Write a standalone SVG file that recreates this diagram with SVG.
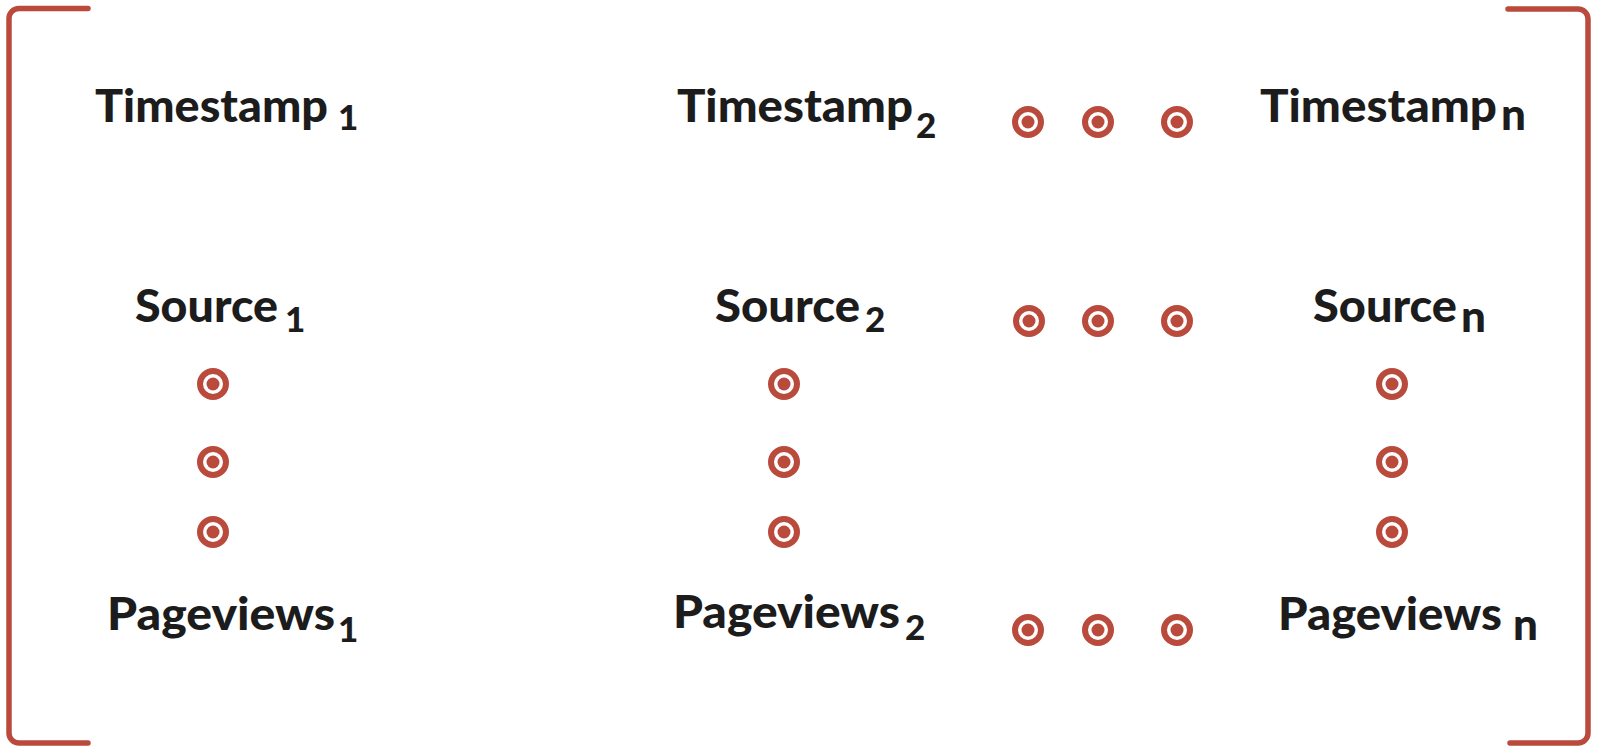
<svg xmlns="http://www.w3.org/2000/svg" width="1597" height="755" viewBox="0 0 1597 755">
<style>
.br{fill:none;stroke:#BA4A3B;stroke-width:5.5;stroke-linecap:round;stroke-linejoin:round}
.lbl{font-family:Lato,"Liberation Sans",sans-serif;font-weight:900;fill:#1c1c1c;font-size:46px}
.sd{font-size:35px}
.sn{font-size:44px}
</style>
<defs>
<g id="dot"><circle r="13" fill="#fff" stroke="#BA4A3B" stroke-width="6"/><circle r="6.5" fill="#BA4A3B"/></g>
</defs>
<rect width="1597" height="755" fill="#fff"/>
<g id="brackets">
<path class="br" d="M88 8.5 H19 A10 10 0 0 0 9 18.5 V733 A10 10 0 0 0 19 743 H88"/>
<path class="br" d="M1508 9 H1578 A10 10 0 0 1 1588 19 V733 A10 10 0 0 1 1578 743 H1510"/>
</g>
<g id="ts1"><text class="lbl"><tspan x="95" y="122" textLength="233" lengthAdjust="spacingAndGlyphs">Timestamp</tspan><tspan class="sd" x="338" y="130">1</tspan></text></g>
<g id="ts2"><text class="lbl"><tspan x="677" y="122" textLength="236" lengthAdjust="spacingAndGlyphs">Timestamp</tspan><tspan class="sd" x="916" y="138">2</tspan></text></g>
<g id="tsn"><text class="lbl"><tspan x="1260" y="122" textLength="237" lengthAdjust="spacingAndGlyphs">Timestamp</tspan><tspan class="sn" x="1501" y="130">n</tspan></text></g>
<g id="src1"><text class="lbl"><tspan x="135" y="322" textLength="143" lengthAdjust="spacingAndGlyphs">Source</tspan><tspan class="sd" x="285" y="332">1</tspan></text></g>
<g id="src2"><text class="lbl"><tspan x="715" y="322" textLength="145" lengthAdjust="spacingAndGlyphs">Source</tspan><tspan class="sd" x="865" y="332">2</tspan></text></g>
<g id="srcn"><text class="lbl"><tspan x="1313" y="322" textLength="144" lengthAdjust="spacingAndGlyphs">Source</tspan><tspan class="sn" x="1461" y="332">n</tspan></text></g>
<g id="pv1"><text class="lbl"><tspan x="107" y="630" textLength="228" lengthAdjust="spacingAndGlyphs">Pageviews</tspan><tspan class="sd" x="338" y="642">1</tspan></text></g>
<g id="pv2"><text class="lbl"><tspan x="673" y="628" textLength="227" lengthAdjust="spacingAndGlyphs">Pageviews</tspan><tspan class="sd" x="905" y="640">2</tspan></text></g>
<g id="pvn"><text class="lbl"><tspan x="1278" y="630" textLength="224" lengthAdjust="spacingAndGlyphs">Pageviews</tspan><tspan class="sn" x="1513" y="640">n</tspan></text></g>
<g id="ellipses">
<use href="#dot" x="1028" y="122"/><use href="#dot" x="1098" y="122"/><use href="#dot" x="1177" y="122"/>
<use href="#dot" x="1029" y="321"/><use href="#dot" x="1098" y="321"/><use href="#dot" x="1177" y="321"/>
<use href="#dot" x="1028" y="630"/><use href="#dot" x="1098" y="630"/><use href="#dot" x="1177" y="630"/>
<use href="#dot" x="213" y="384"/><use href="#dot" x="213" y="462"/><use href="#dot" x="213" y="532"/>
<use href="#dot" x="784" y="384"/><use href="#dot" x="784" y="462"/><use href="#dot" x="784" y="532"/>
<use href="#dot" x="1392" y="384"/><use href="#dot" x="1392" y="462"/><use href="#dot" x="1392" y="532"/>
</g>
</svg>
